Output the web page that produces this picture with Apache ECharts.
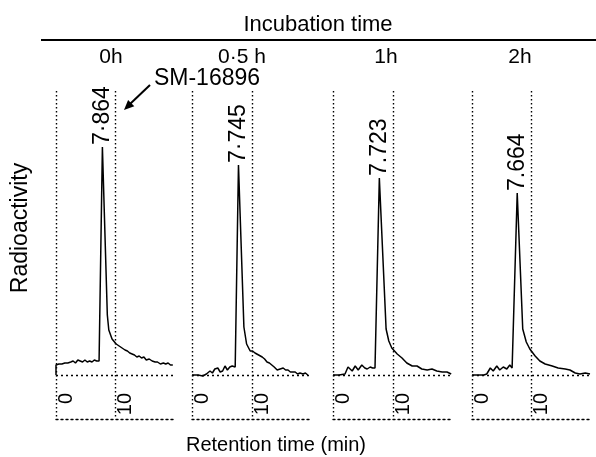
<!DOCTYPE html>
<html>
<head>
<meta charset="utf-8">
<script src="https://cdn.jsdelivr.net/npm/echarts@6/dist/echarts.min.js"></script>
<style>html,body{margin:0;padding:0;background:#fff;}#c{width:596px;height:457px;}</style>
</head>
<body>
<div id="c"></div>
<script>
// ---- data ----
const panelTitles = ['0h', '0·5 h', '1h', '2h'];
const peakLabels = ['7·864', '7·745', '7.723', '7.664'];
const peakTimes = [7.864, 7.745, 7.723, 7.664];
const xTickLabels = ['0', '10'];

const time0h = [0, 0, 0.5, 1.0, 1.5, 2.0, 2.5, 2.9, 3.3, 3.7, 4.1, 4.5, 4.9, 5.3, 5.7, 6.1, 6.5, 6.9, 7.3, 7.864, 8.7, 8.95, 9.5, 10.2, 10.7, 11.2, 11.7, 12.1, 12.5, 12.9, 13.3, 13.7, 14.1, 14.5, 14.9, 15.3, 15.8, 16.3, 16.8, 17.2, 17.7, 18.2, 18.6, 19.0, 19.4, 19.8];
const value0h = [0, 10, 11, 11, 12, 12, 13, 14, 12, 15, 14, 13, 15, 13, 14, 13, 15, 14, 14, 228, 60, 45, 36, 31, 29, 27, 25, 24, 22, 21, 20, 18, 19, 17, 18, 15, 16, 14, 13, 13, 11, 12, 11, 12, 10, 10];

const time05h = [0, 1.0, 1.8, 2.4, 3.0, 3.4, 3.8, 4.3, 4.7, 5.1, 5.5, 5.9, 6.3, 6.7, 7.0, 7.2, 7.745, 8.65, 9.1, 9.7, 10.1, 10.5, 11.1, 11.7, 12.1, 12.5, 12.9, 13.3, 13.7, 14.2, 14.7, 15.2, 15.6, 16.0, 16.4, 16.7, 17.2, 17.6, 18.0, 18.5, 18.9, 19.3];
const value05h = [0, 0, -1, 1, 4, 2, 6, 7, 3, 4, 9, 5, 8, 9, 7, 8, 210, 48, 31, 24, 24, 22, 20, 18, 16, 13, 12, 10, 8, 5, 6, 7, 5, 5, 3, 2, 3, 1, 2, 1, 2, 0];

const time1h = [0, 1.0, 2.0, 2.5, 3.2, 3.7, 4.2, 4.8, 5.3, 5.7, 6.2, 6.6, 7.0, 7.2, 7.723, 8.85, 9.3, 9.8, 10.7, 11.5, 12.3, 13.2, 14.0, 14.8, 15.7, 16.5, 17.3, 18.2, 19.0, 19.7];
const value1h = [0, 0, 1, 8, 4, 9, 5, 10, 7, 6, 8, 7, 7, 8, 197, 46, 34, 27, 21, 17, 12, 9, 9, 6, 5, 6, 4, 3, 3, 1];

const time2h = [0, 1.0, 2.0, 2.5, 3.1, 3.6, 4.2, 4.7, 5.3, 5.9, 6.4, 6.8, 7.0, 7.664, 8.6, 9.2, 9.8, 10.7, 11.5, 12.4, 13.6, 14.6, 15.8, 16.6, 17.5, 18.3, 19.2, 20.0];
const value2h = [0, 0, 0, 1, 7, 4, 9, 5, 8, 6, 10, 7, 8, 182, 46, 33, 26, 19, 14, 11, 9, 7, 6, 5, 2, 1, 2, 1];

const panelTimes = [time0h, time05h, time1h, time2h];
const panelValues = [value0h, value05h, value1h, value2h];

// ---- layout ----
const FONT = 'Liberation Sans, Arial, Helvetica, sans-serif';
const gridLefts = [56, 192, 333, 472];
const gridWidths = [118, 120, 120, 118];
const titleX = [111, 242, 386, 520];
const gridTop = 91, gridHeight = 328;

const grids = [], xAxes = [], yAxes = [], series = [];
for (let i = 0; i < 4; i++) {
  grids.push({ left: gridLefts[i], top: gridTop, width: gridWidths[i], height: gridHeight });
  xAxes.push({
    gridIndex: i, type: 'value', min: 0, max: 20, interval: 10,
    axisLine: { show: true, onZero: false, lineStyle: { color: '#000', type: [2, 3], width: 1.4 } },
    axisTick: { show: false },
    splitLine: { show: true, showMinLine: true, showMaxLine: false, lineStyle: { color: '#000', type: [1.5, 2.5], width: 1.4 } },
    axisLabel: {
      inside: true, rotate: 90, margin: 26, align: 'right', verticalAlign: 'top',
      showMinLabel: true, showMaxLabel: false,
      color: '#000', fontSize: 20, fontFamily: FONT,
      formatter: v => (v === 0 ? xTickLabels[0] : v === 10 ? xTickLabels[1] : '')
    }
  });
  yAxes.push({ gridIndex: i, type: 'value', min: -44, max: 284, show: false });
  const data = panelTimes[i].map((t, k) => [t, panelValues[i][k]]);
  const peakIdx = panelTimes[i].indexOf(peakTimes[i]);
  series.push({
    type: 'line', xAxisIndex: i, yAxisIndex: i, data: data,
    showSymbol: false, symbol: 'none', animation: false,
    lineStyle: { color: '#000', width: 1.5 },
    markLine: {
      silent: true, symbol: 'none', animation: false,
      label: { show: false },
      lineStyle: { color: '#000', type: [2, 3], width: 1.4 },
      data: [{ yAxis: 0 }]
    },
    markPoint: {
      silent: true, symbol: 'circle', symbolSize: 0, animation: false,
      itemStyle: { color: 'transparent' },
      label: {
        show: true, position: 'top', distance: 4, rotate: 90,
        align: 'left', verticalAlign: 'middle', offset: [-2, 0],
        color: '#000', fontSize: 23, fontFamily: FONT,
        formatter: peakLabels[i]
      },
      data: [{ coord: [peakTimes[i], panelValues[i][peakIdx]] }]
    }
  });
}

const graphics = [
  { type: 'text', x: 318, y: 25, style: { text: 'Incubation time', fontSize: 22, fontFamily: FONT, fill: '#000', align: 'center', verticalAlign: 'middle' } },
  { type: 'line', shape: { x1: 41, y1: 40, x2: 596, y2: 40 }, style: { stroke: '#000', lineWidth: 2 } },
  { type: 'text', x: 21, y: 228, rotation: Math.PI / 2, style: { text: 'Radioactivity', fontSize: 23, fontFamily: FONT, fill: '#000', align: 'center', verticalAlign: 'middle' } },
  { type: 'text', x: 276, y: 445, style: { text: 'Retention time (min)', fontSize: 20, fontFamily: FONT, fill: '#000', align: 'center', verticalAlign: 'middle' } },
  { type: 'text', x: 207, y: 79, style: { text: 'SM-16896', fontSize: 23, fontFamily: FONT, fill: '#000', align: 'center', verticalAlign: 'middle' } },
  { type: 'line', shape: { x1: 150, y1: 85, x2: 130, y2: 104 }, style: { stroke: '#000', lineWidth: 2 } },
  { type: 'polygon', shape: { points: [[124, 110], [134.3, 106.3], [128.1, 99.9]] }, style: { fill: '#000' } }
];
for (let i = 0; i < 4; i++) {
  graphics.push({ type: 'text', x: titleX[i], y: 57, style: { text: panelTitles[i], fontSize: 21, fontFamily: FONT, fill: '#000', align: 'center', verticalAlign: 'middle' } });
}

const chart = echarts.init(document.getElementById('c'), null, { renderer: 'canvas' });
chart.setOption({
  animation: false,
  backgroundColor: '#fff',
  grid: grids, xAxis: xAxes, yAxis: yAxes, series: series,
  graphic: graphics
});
</script>
</body>
</html>
